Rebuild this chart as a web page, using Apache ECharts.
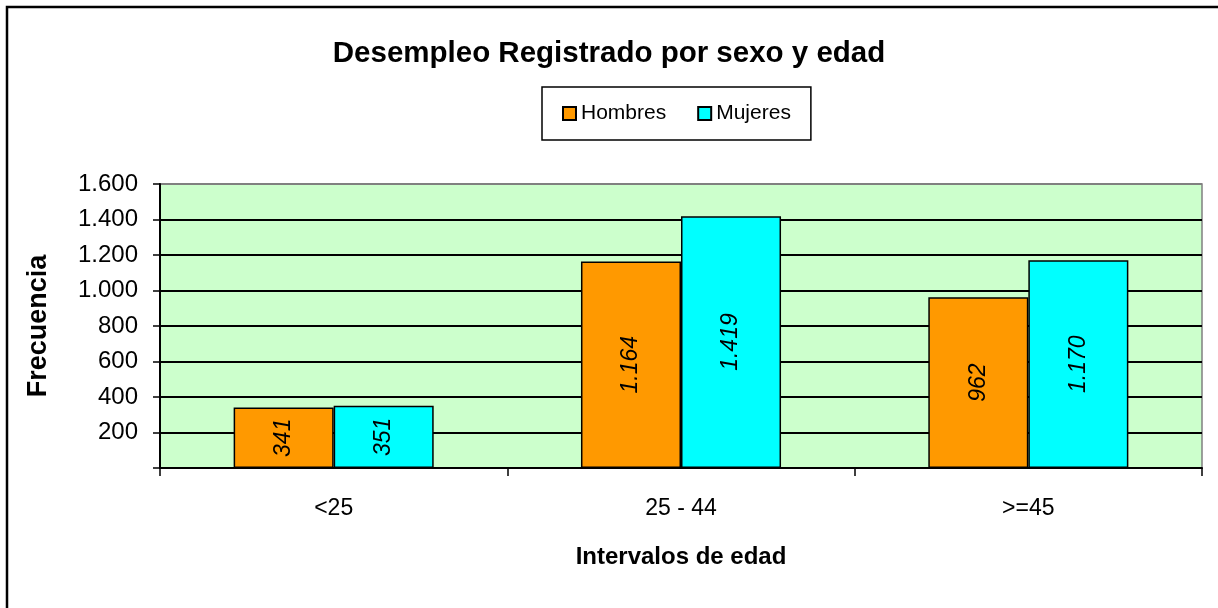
<!DOCTYPE html>
<html>
<head>
<meta charset="utf-8">
<script src="https://cdn.jsdelivr.net/npm/echarts@6/dist/echarts.min.js"></script>
<style>
    html, body { margin: 0; padding: 0; background: #fff; }
    #main { width: 1218px; height: 608px; }
</style>
</head>
<body>
<div id="main"></div>
<script>
// datos
var categorias = ['<25', '25 - 44', '>=45'];
var hombres = [341, 1164, 962];
var mujeres = [351, 1419, 1170];
var lineasGrid = ['#000', '#000', '#000', '#000', '#000', '#000', '#000', '#000', '#808080'];

var fuente = 'Liberation Sans, Arial, sans-serif';

// separador de miles con punto
function miles(v) {
    return String(v).replace(/\B(?=(\d{3})+(?!\d))/g, '.');
}

var chart = echarts.init(document.getElementById('main'));
var option = {
    backgroundColor: '#fff',
    animation: false,
    // marco exterior
    graphic: [{
        type: 'rect',
        shape: { x: 7, y: 7, width: 1300, height: 700 },
        style: { fill: 'none', stroke: '#000', lineWidth: 2.5 },
        silent: true
    }],
    title: {
        text: 'Desempleo Registrado por sexo y edad',
        left: 'center',
        top: 34,
        textStyle: {
            fontFamily: fuente,
            fontSize: 29.5,
            fontWeight: 'bold',
            color: '#000'
        }
    },
    legend: {
        left: 542,
        top: 87,
        padding: [16, 20, 16, 20],
        itemGap: 31,
        itemWidth: 13,
        itemHeight: 13,
        icon: 'rect',
        borderColor: '#000',
        borderWidth: 1.5,
        textStyle: {
            fontFamily: fuente,
            fontSize: 21,
            color: '#000'
        },
        data: ['Hombres', 'Mujeres']
    },
    grid: {
        left: 160,
        right: 16,
        top: 184,
        bottom: 140,
        show: true,
        backgroundColor: '#CCFFCC',
        borderColor: '#808080',
        borderWidth: 1.5
    },
    xAxis: {
        type: 'category',
        data: categorias,
        name: 'Intervalos de edad',
        nameLocation: 'middle',
        nameGap: 77,
        nameTextStyle: {
            fontFamily: fuente,
            fontSize: 24,
            fontWeight: 'bold',
            color: '#000'
        },
        axisLine: { lineStyle: { color: '#000', width: 2 } },
        axisTick: { show: true, length: 8, lineStyle: { color: '#000', width: 1.5 } },
        axisLabel: {
            margin: 29,
            fontFamily: fuente,
            fontSize: 23,
            color: '#000'
        }
    },
    yAxis: {
        type: 'value',
        min: 0,
        max: 1600,
        interval: 200,
        name: 'Frecuencia',
        nameLocation: 'middle',
        nameGap: 108,
        nameTextStyle: {
            fontFamily: fuente,
            fontSize: 27,
            fontWeight: 'bold',
            color: '#000'
        },
        axisLine: { show: true, lineStyle: { color: '#000', width: 2 } },
        axisTick: { show: true, length: 7, lineStyle: { color: '#000', width: 1.5 } },
        axisLabel: {
            margin: 22,
            fontFamily: fuente,
            fontSize: 24,
            color: '#000',
            formatter: function (v) {
                return v === 0 ? '' : miles(v);
            }
        },
        splitLine: {
            show: true,
            lineStyle: { color: lineasGrid, width: 2 }
        }
    },
    series: [{
            name: 'Hombres',
            type: 'bar',
            data: hombres,
            barGap: '0%',
            barCategoryGap: '42.4%',
            itemStyle: {
                color: '#FF9900',
                borderColor: '#000',
                borderWidth: 1.5
            },
            label: {
                show: true,
                position: 'inside',
                rotate: 90,
                fontFamily: fuente,
                fontSize: 23,
                fontStyle: 'italic',
                color: '#000',
                formatter: function (p) {
                    return miles(p.value);
                }
            }
        },
        {
            name: 'Mujeres',
            type: 'bar',
            data: mujeres,
            itemStyle: {
                color: '#00FFFF',
                borderColor: '#000',
                borderWidth: 1.5
            },
            label: {
                show: true,
                position: 'inside',
                rotate: 90,
                fontFamily: fuente,
                fontSize: 23,
                fontStyle: 'italic',
                color: '#000',
                formatter: function (p) {
                    return miles(p.value);
                }
            }
        }
    ]
};
chart.setOption(option);
</script>
</body>
</html>
